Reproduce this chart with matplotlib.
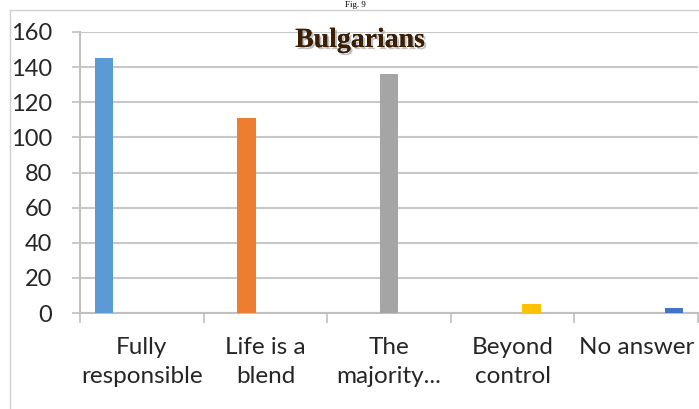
import matplotlib
matplotlib.use("Agg")
import matplotlib.pyplot as plt
import matplotlib.patheffects as pe
import numpy as np

categories = ["Fully\nresponsible", "Life is a\nblend", "The\nmajority...", "Beyond\ncontrol", "No answer"]
series_names = ["Fully responsible", "Life is a blend", "The majority", "Beyond control", "No answer"]
values = [145, 111, 136, 5, 3]
colors = ["#5B9BD5", "#ED7D31", "#A5A5A5", "#FFC000", "#4472C4"]
yticks = [0, 20, 40, 60, 80, 100, 120, 140, 160]
title = "Bulgarians"

W, H = 699, 409
fig = plt.figure(figsize=(W / 100, H / 100), dpi=100)
ax = fig.add_axes([80 / W, 1 - 313 / H, (698 - 80) / W, (313 - 32) / H])

n = len(series_names)
bw = 0.153
x = np.arange(len(categories))
for i in range(n):
    vals = [values[j] if j == i else 0 for j in range(len(categories))]
    offs = (i - (n - 1) / 2) * bw
    ax.bar(x + offs, vals, width=bw, color=colors[i], zorder=3, label=series_names[i])

ax.set_xlim(-0.5, len(categories) - 0.5)
ax.set_ylim(0, 160)
ax.set_yticks(yticks)
ax.set_yticklabels([str(v) for v in yticks], fontsize=17, family="Lato", color="#262626")
ax.yaxis.grid(True, color="#c8c8c8", linewidth=1.5, zorder=0)
ax.tick_params(axis="y", length=6, width=1.2, color="#c0c0c0", pad=14)

ax.set_xticks(np.arange(-0.5, len(categories), 1.0), minor=False)
ax.set_xticklabels([])
ax.tick_params(axis="x", which="major", length=7, width=1.2, color="#c0c0c0", direction="out")
ax.set_xticks(x, minor=True)
ax.set_xticklabels(categories, minor=True, fontsize=17.5, family="Lato", color="#262626", linespacing=1.5)
ax.tick_params(axis="x", which="minor", length=0, pad=17)

for s in ["top", "right"]:
    ax.spines[s].set_visible(False)
for s in ["left", "bottom"]:
    ax.spines[s].set_color("#c0c0c0")
    ax.spines[s].set_linewidth(1.5)

t = fig.text(360 / W, 1 - 47 / H, title, ha="center", va="baseline", fontsize=20,
             family="Liberation Serif", weight="bold", color="#3a1f05")
t.set_path_effects([pe.withSimplePatchShadow(offset=(1.5, -1.5), shadow_rgbFace="#999999", alpha=0.6), pe.Normal()])

fig.text(355 / W, 1 - 1 / H, "Fig. 9", ha="center", va="top", fontsize=6.5,
         family="Liberation Serif", color="#000000")

# outer frame
fig.add_artist(plt.Line2D([10 / W, 10 / W], [0, 1 - 10 / H], transform=fig.transFigure, color="#d0d0d0", linewidth=1))
fig.add_artist(plt.Line2D([10 / W, 1], [1 - 10 / H, 1 - 10 / H], transform=fig.transFigure, color="#d0d0d0", linewidth=1))

fig.savefig("out.png", dpi=100)
